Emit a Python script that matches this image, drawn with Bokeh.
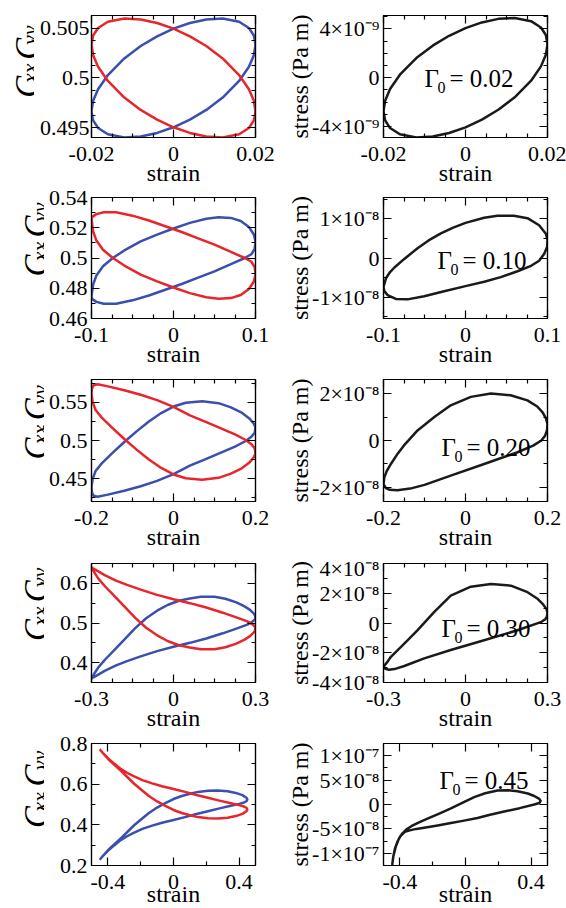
import math
from bokeh.plotting import figure
from bokeh.layouts import column, row
from bokeh.models import Range1d, FixedTicker, CustomJSTickFormatter, LinearAxis, Label
from bokeh.embed import file_html
from bokeh.resources import INLINE

SERIF = "'Liberation Serif', 'Times New Roman', Times, serif"
BLUE = "#3a4fae"
RED = "#e8252b"
BLACK = "#1a1a1a"

# ---------------- data ----------------
# Gamma0 = 0.02
g1_strain = [-0.02, -0.0196, -0.0184, -0.016, -0.012, -0.008, -0.004, 0.0, 0.004, 0.008, 0.012, 0.016, 0.0184, 0.0196, 0.02,
             0.0196, 0.0184, 0.016, 0.012, 0.008, 0.004, 0.0, -0.004, -0.008, -0.012, -0.016, -0.0184, -0.0196, -0.02]
g1_cxx = [0.49665, 0.49770, 0.49886, 0.50030, 0.50197, 0.50322, 0.50420, 0.50497, 0.50554, 0.50590, 0.50599, 0.50567, 0.50504, 0.50428, 0.50336,
          0.50230, 0.50114, 0.49970, 0.49803, 0.49678, 0.49580, 0.49503, 0.49446, 0.49410, 0.49401, 0.49433, 0.49496, 0.49572, 0.49665]
g1_cyy = [0.50335, 0.50230, 0.50114, 0.49970, 0.49803, 0.49678, 0.49580, 0.49503, 0.49446, 0.49410, 0.49401, 0.49433, 0.49496, 0.49572, 0.49664,
          0.49770, 0.49886, 0.50030, 0.50197, 0.50322, 0.50420, 0.50497, 0.50554, 0.50590, 0.50599, 0.50567, 0.50504, 0.50428, 0.50335]
g1_stress_e9 = [-2.744, -1.880, -0.930, 0.245, 1.608, 2.629, 3.436, 4.067, 4.534, 4.825, 4.900, 4.635, 4.118, 3.498, 2.744,
                1.880, 0.930, -0.245, -1.608, -2.629, -3.436, -4.067, -4.534, -4.825, -4.900, -4.635, -4.118, -3.498, -2.744]

# Gamma0 = 0.10
g2_strain = [-0.100, -0.098, -0.094, -0.086, -0.074, -0.060, -0.040, -0.020, 0.000, 0.020, 0.040, 0.055, 0.070, 0.082, 0.092, 0.098, 0.100,
             0.099, 0.095, 0.087, 0.070, 0.050, 0.030, 0.010, -0.010, -0.030, -0.050, -0.070, -0.085, -0.094, -0.099, -0.100]
g2_cxx = [0.4745, 0.4825, 0.4885, 0.4945, 0.5000, 0.5050, 0.5110, 0.5155, 0.5195, 0.5232, 0.5260, 0.5270, 0.5265, 0.5245, 0.5205, 0.5155, 0.5110,
          0.5060, 0.5025, 0.5000, 0.4960, 0.4912, 0.4870, 0.4828, 0.4790, 0.4752, 0.4720, 0.4698, 0.4697, 0.4710, 0.4728, 0.4745]
g2_cyy = [0.5255, 0.5175, 0.5115, 0.5055, 0.5000, 0.4950, 0.4890, 0.4845, 0.4805, 0.4768, 0.4740, 0.4730, 0.4735, 0.4755, 0.4795, 0.4845, 0.4890,
          0.4940, 0.4975, 0.5000, 0.5040, 0.5088, 0.5130, 0.5172, 0.5210, 0.5248, 0.5280, 0.5302, 0.5303, 0.5290, 0.5272, 0.5255]
g2s_strain = [-0.100, -0.097, -0.092, -0.087, -0.075, -0.0585, -0.045, -0.030, -0.015, 0.000, 0.0228, 0.039, 0.059, 0.0756, 0.0898, 0.098, 0.100,
              0.0996, 0.096, 0.0898, 0.080, 0.0634, 0.043, 0.0228, 0.000, -0.026, -0.0504, -0.0707, -0.085, -0.095, -0.099, -0.100]
g2_stress_e8 = [-0.74, -0.52, -0.36, -0.25, -0.03, 0.25, 0.45, 0.63, 0.78, 0.90, 1.03, 1.08, 1.08, 1.02, 0.84, 0.62, 0.46,
                0.29, 0.11, -0.07, -0.20, -0.34, -0.49, -0.61, -0.72, -0.85, -0.98, -1.06, -1.05, -0.95, -0.85, -0.74]

# Gamma0 = 0.20
g3_strain = [-0.200, -0.197, -0.190, -0.175, -0.150, -0.120, -0.090, -0.060, -0.030, 0.000, 0.030, 0.070, 0.110, 0.140, 0.165, 0.185, 0.196, 0.200,
             0.198, 0.190, 0.175, 0.150, 0.120, 0.080, 0.040, 0.000, -0.040, -0.080, -0.120, -0.160, -0.185, -0.195, -0.199, -0.200]
g3_cxx = [0.4390, 0.4500, 0.4600, 0.4700, 0.4830, 0.4980, 0.5120, 0.5250, 0.5360, 0.5445, 0.5495, 0.5515, 0.5490, 0.5435, 0.5370, 0.5290, 0.5220, 0.5170,
          0.5100, 0.5050, 0.4990, 0.4920, 0.4850, 0.4760, 0.4670, 0.4560, 0.4470, 0.4400, 0.4340, 0.4290, 0.4262, 0.4275, 0.4320, 0.4390]
g3_cyy = [0.5610, 0.5500, 0.5400, 0.5300, 0.5170, 0.5020, 0.4880, 0.4750, 0.4640, 0.4555, 0.4505, 0.4485, 0.4510, 0.4565, 0.4630, 0.4710, 0.4780, 0.4830,
          0.4900, 0.4950, 0.5010, 0.5080, 0.5150, 0.5240, 0.5330, 0.5440, 0.5530, 0.5600, 0.5660, 0.5710, 0.5738, 0.5725, 0.5680, 0.5610]
g3s_strain = [-0.200, -0.198, -0.192, -0.182, -0.165, -0.150, -0.117, -0.076, -0.036, 0.013, 0.062, 0.110, 0.151, 0.175, 0.188, 0.196, 0.200,
              0.199, 0.194, 0.185, 0.165, 0.127, 0.0455, -0.036, -0.100, -0.135, -0.166, -0.185, -0.194, -0.200]
g3_stress_e8 = [-1.86, -1.57, -1.30, -1.00, -0.55, -0.21, 0.43, 1.00, 1.50, 1.86, 2.00, 1.93, 1.71, 1.45, 1.20, 0.95, 0.70,
                0.45, 0.20, 0.00, -0.22, -0.50, -1.00, -1.50, -1.89, -2.05, -2.12, -2.10, -2.03, -1.86]

# Gamma0 = 0.30
g4_strain = [-0.300, -0.290, -0.275, -0.250, -0.215, -0.180, -0.140, -0.100, -0.060, -0.020, 0.020, 0.060, 0.100, 0.150, 0.190, 0.230, 0.260, 0.280, 0.295, 0.300,
             0.297, 0.288, 0.270, 0.230, 0.180, 0.120, 0.060, 0.000, -0.060, -0.120, -0.170, -0.210, -0.250, -0.280, -0.300]
g4_cxx = [0.360, 0.372, 0.388, 0.408, 0.433, 0.458, 0.487, 0.512, 0.531, 0.546, 0.556, 0.562, 0.566, 0.566, 0.561, 0.552, 0.542, 0.533, 0.523, 0.515,
          0.508, 0.503, 0.496, 0.486, 0.474, 0.461, 0.450, 0.440, 0.429, 0.416, 0.404, 0.393, 0.380, 0.368, 0.360]
g4_cyy = [0.640, 0.628, 0.612, 0.592, 0.567, 0.542, 0.513, 0.488, 0.469, 0.454, 0.444, 0.438, 0.434, 0.434, 0.439, 0.448, 0.458, 0.467, 0.477, 0.485,
          0.492, 0.497, 0.504, 0.514, 0.526, 0.539, 0.550, 0.560, 0.571, 0.584, 0.596, 0.607, 0.620, 0.632, 0.640]
g4s_strain = [-0.300, -0.285, -0.273, -0.224, -0.176, -0.115, -0.054, 0.0195, 0.093, 0.166, 0.227, 0.262, 0.284, 0.296, 0.300,
              0.298, 0.292, 0.278, 0.190, 0.068, -0.054, -0.151, -0.224, -0.260, -0.280, -0.293, -0.300]
g4_stress_e8 = [-2.93, -2.60, -2.27, -1.38, -0.49, 0.73, 1.84, 2.44, 2.62, 2.51, 2.07, 1.65, 1.25, 0.95, 0.70,
                0.45, 0.25, 0.08, -0.49, -1.16, -1.82, -2.38, -2.89, -3.10, -3.14, -3.08, -2.93]

# Gamma0 = 0.45
g5_strain = [-0.450, -0.430, -0.400, -0.360, -0.320, -0.280, -0.240, -0.200, -0.150, -0.100, -0.050, 0.000, 0.050, 0.100, 0.150, 0.210, 0.270, 0.330, 0.380, 0.420, 0.445, 0.450,
             0.445, 0.430, 0.400, 0.350, 0.280, 0.210, 0.140, 0.070, 0.000, -0.070, -0.130, -0.190, -0.240, -0.280, -0.320, -0.360, -0.400, -0.430, -0.450]
g5_cxx = [0.228, 0.248, 0.275, 0.305, 0.335, 0.366, 0.398, 0.425, 0.458, 0.485, 0.507, 0.527, 0.542, 0.553, 0.562, 0.568, 0.569, 0.565, 0.557, 0.546, 0.533, 0.525,
          0.516, 0.510, 0.503, 0.494, 0.481, 0.467, 0.453, 0.438, 0.424, 0.410, 0.396, 0.380, 0.362, 0.345, 0.326, 0.300, 0.272, 0.247, 0.228]
g5_cyy = [0.772, 0.752, 0.725, 0.695, 0.665, 0.634, 0.602, 0.575, 0.542, 0.515, 0.493, 0.473, 0.458, 0.447, 0.438, 0.432, 0.431, 0.435, 0.443, 0.454, 0.467, 0.475,
          0.484, 0.490, 0.497, 0.506, 0.519, 0.533, 0.547, 0.562, 0.576, 0.590, 0.604, 0.620, 0.638, 0.655, 0.674, 0.700, 0.728, 0.753, 0.772]
g5s_strain = [-0.447, -0.440, -0.425, -0.405, -0.384, -0.360, -0.330, -0.290, -0.232, -0.160, -0.089, -0.020, 0.053, 0.120, 0.195, 0.260, 0.317, 0.380, 0.419, 0.450,
              0.458, 0.450, 0.419, 0.330, 0.236, 0.150, 0.073, -0.009, -0.089, -0.170, -0.252, -0.300, -0.340, -0.370, -0.395, -0.415, -0.430, -0.440, -0.447]
g5_stress_e8 = [-12.4, -10.6, -8.6, -6.9, -5.9, -5.1, -4.45, -3.75, -2.9, -1.85, -0.8, 0.35, 1.5, 2.3, 2.85, 2.9, 2.7, 2.25, 1.75, 1.15,
                0.75, 0.3, 0.0, -0.75, -1.45, -2.1, -2.75, -3.3, -3.8, -4.3, -4.75, -5.0, -5.3, -5.6, -6.4, -7.6, -9.0, -10.6, -12.4]

gamma0_labels = ["= 0.02", "= 0.10", "= 0.20", "= 0.30", "= 0.45"]

# ticks (values and labels)
x_major = [[-0.02, 0.0, 0.02], [-0.1, 0.0, 0.1], [-0.2, 0.0, 0.2], [-0.3, 0.0, 0.3], [-0.4, 0.0, 0.4]]
x_major_labels = [["-0.02", "0", "0.02"], ["-0.1", "0", "0.1"], ["-0.2", "0", "0.2"], ["-0.3", "0", "0.3"], ["-0.4", "0", "0.4"]]
x_minor = [[-0.015, -0.01, -0.005, 0.005, 0.01, 0.015], [-0.075, -0.05, -0.025, 0.025, 0.05, 0.075],
           [-0.15, -0.1, -0.05, 0.05, 0.1, 0.15], [-0.225, -0.15, -0.075, 0.075, 0.15, 0.225], [-0.2, 0.2]]
x_ranges = [(-0.02, 0.02), (-0.1, 0.1), (-0.2, 0.2), (-0.3, 0.3), (-0.5, 0.5)]

c_ranges = [(0.494, 0.5063), (0.46, 0.54), (0.42, 0.58), (0.35, 0.65), (0.2, 0.8)]
c_major = [[0.495, 0.5, 0.505], [0.46, 0.48, 0.5, 0.52, 0.54], [0.45, 0.5, 0.55], [0.4, 0.5, 0.6], [0.2, 0.4, 0.6, 0.8]]
c_major_labels = [["0.495", "0.5", "0.505"], ["0.46", "0.48", "0.5", "0.52", "0.54"], ["0.45", "0.5", "0.55"],
                  ["0.4", "0.5", "0.6"], ["0.2", "0.4", "0.6", "0.8"]]
c_minor = [[0.49625, 0.4975, 0.49875, 0.50125, 0.5025, 0.50375, 0.50625], [0.47, 0.49, 0.51, 0.53],
           [0.425, 0.475, 0.525, 0.575], [0.45, 0.55], [0.3, 0.5, 0.7]]

s_ranges = [(-4.9e-9, 5.1e-9), (-1.55e-8, 1.55e-8), (-2.6e-8, 2.6e-8), (-4e-8, 4e-8), (-1.25e-7, 1.25e-7)]
s_major = [[-4e-9, 0.0, 4e-9], [-1e-8, 0.0, 1e-8], [-2e-8, 0.0, 2e-8], [-4e-8, -2e-8, 0.0, 2e-8, 4e-8],
           [-1e-7, -5e-8, 0.0, 5e-8, 1e-7]]
s_major_labels = [["-4×10⁻⁹", "0", "4×10⁻⁹"], ["-1×10⁻⁸", "0", "1×10⁻⁸"], ["-2×10⁻⁸", "0", "2×10⁻⁸"],
                  ["-4×10⁻⁸", "-2×10⁻⁸", "0", "2×10⁻⁸", "4×10⁻⁸"], ["-1×10⁻⁷", "-5×10⁻⁸", "0", "5×10⁻⁸", "1×10⁻⁷"]]
s_minor = [[-3e-9, -2e-9, -1e-9, 1e-9, 2e-9, 3e-9, 5e-9], [-1.5e-8, -0.5e-8, 0.5e-8, 1.5e-8], [-1e-8, 1e-8],
           [-3e-8, -1e-8, 1e-8, 3e-8], [-7.5e-8, -2.5e-8, 2.5e-8, 7.5e-8]]

left_data = [(g1_strain, g1_cxx, g1_cyy), (g2_strain, g2_cxx, g2_cyy), (g3_strain, g3_cxx, g3_cyy),
             (g4_strain, g4_cxx, g4_cyy), (g5_strain, g5_cxx, g5_cyy)]
right_data = [(g1_strain, [v * 1e-9 for v in g1_stress_e9]), (g2s_strain, [v * 1e-8 for v in g2_stress_e8]),
              (g3s_strain, [v * 1e-8 for v in g3_stress_e8]), (g4s_strain, [v * 1e-8 for v in g4_stress_e8]),
              (g5s_strain, [v * 1e-8 for v in g5_stress_e8])]

# ---------------- layout (Bokeh's page template has no body margin) ----------------
FRAME_W = 164
FRAME_LEFT_L = 91      # frame left edge, left column
COL_W = 283
RIGHT_MBL = 100
frame_h = [122, 121, 122, 119, 122]
border_top = [15, 7, 7, 8, 7]
border_bottom = [53, 54, 54, 54, 43]
xtick_standoff = [9, 9, 9, 9, 9]
xlab_standoff = [-4, -4, -4, -4, -11]
strip_w = [34, 44, 44, 44, 44]
ytick_standoff = [2, 4, 4, 4, 4]
c_base = [[26.5, 28.5], [35, 38.5], [35, 38.5], [35, 38.5], [35, 38.5]]
gamma_pos = [(41, 59), (54, 58), (58, 54), (58, 54), (56, 85)]

FMT_CODE = """
let best = 0, bd = Infinity;
for (let i = 0; i < vals.length; i++) { const d = Math.abs(vals[i] - tick); if (d < bd) { bd = d; best = i; } }
return labs[best];
"""
BLANK_CODE = "return '';"


def make_axis(ticks, minors, labels, standoff=4):
    ax = LinearAxis(ticker=FixedTicker(ticks=ticks, minor_ticks=minors))
    ax.major_tick_in = 8
    ax.major_tick_out = 0
    ax.minor_tick_in = 4
    ax.minor_tick_out = 0
    ax.axis_line_color = "black"
    ax.major_tick_line_color = "black"
    ax.minor_tick_line_color = "black"
    ax.axis_line_width = 1.2
    ax.major_tick_line_width = 1.2
    ax.minor_tick_line_width = 1.2
    ax.axis_label_text_font = SERIF
    ax.axis_label_text_font_size = "24px"
    ax.axis_label_text_font_style = "normal"
    ax.axis_label_text_color = "black"
    ax.major_label_text_font = SERIF
    if labels is None:
        ax.formatter = CustomJSTickFormatter(code=BLANK_CODE)
        ax.major_label_text_font_size = "0px"
        ax.major_label_standoff = 0
    else:
        ax.formatter = CustomJSTickFormatter(args=dict(vals=ticks, labs=labels), code=FMT_CODE)
        ax.major_label_text_font_size = "22px"
        ax.major_label_text_font_style = "normal"
        ax.major_label_text_color = "black"
        ax.major_label_standoff = standoff
    return ax


def add_text(p, text, x, y, size, style="normal", angle=0.0, units="screen"):
    p.add_layout(Label(x=x, y=y, x_units=units, y_units=units, text=text, text_font=SERIF,
                       text_font_size=f"{size}px", text_font_style=style, angle=angle,
                       text_align="left", text_baseline="alphabetic", text_color="black"))


def make_strip(i):
    """Narrow drawing area left of the C panel that carries the C_xx, C_yy title."""
    w = strip_w[i]
    h = border_top[i] + frame_h[i] + border_bottom[i]
    s = figure(width=w, height=h, x_range=Range1d(0, w), y_range=Range1d(0, h),
               x_axis_type=None, y_axis_type=None, output_backend="svg", toolbar_location=None,
               min_border_left=0, min_border_right=0, min_border_top=0, min_border_bottom=0)
    s.outline_line_color = None
    s.background_fill_color = "white"
    s.border_fill_color = "white"
    a = math.pi / 2
    xb, xs = c_base[i]
    y0 = border_bottom[i]
    add_text(s, "C", xb, y0 + 9, 33, "italic", a, "data")
    add_text(s, "xx", xs, y0 + 32, 22, "italic", a, "data")
    add_text(s, ",", xb, y0 + 52, 33, "italic", a, "data")
    add_text(s, "C", xb, y0 + 68, 33, "italic", a, "data")
    add_text(s, "yy", xs, y0 + 91, 22, "italic", a, "data")
    return s


def make_panel(i, left):
    xr = x_ranges[i]
    if left:
        yr, ymaj, ylab, ymin = c_ranges[i], c_major[i], c_major_labels[i], c_minor[i]
        mbl, mbr = FRAME_LEFT_L - strip_w[i], COL_W - FRAME_LEFT_L - FRAME_W
    else:
        yr, ymaj, ylab, ymin = s_ranges[i], s_major[i], s_major_labels[i], s_minor[i]
        mbl, mbr = RIGHT_MBL, COL_W - RIGHT_MBL - FRAME_W
    p = figure(frame_width=FRAME_W, frame_height=frame_h[i], x_range=Range1d(*xr), y_range=Range1d(*yr),
               x_axis_type=None, y_axis_type=None, output_backend="svg", toolbar_location=None,
               min_border_left=mbl, min_border_right=mbr, min_border_top=border_top[i],
               min_border_bottom=border_bottom[i])
    p.background_fill_color = "white"
    p.border_fill_color = "white"
    p.outline_line_color = "black"
    p.outline_line_width = 1.2
    xb = make_axis(x_major[i], x_minor[i], x_major_labels[i], xtick_standoff[i])
    xb.axis_label = "strain"
    xb.axis_label_standoff = xlab_standoff[i]
    p.add_layout(xb, "below")
    p.add_layout(make_axis(x_major[i], x_minor[i], None), "above")
    yl = make_axis(ymaj, ymin, ylab, ytick_standoff[i] if left else 4)
    p.add_layout(yl, "left")
    p.add_layout(make_axis(ymaj, ymin, None), "right")

    if left:
        xs, cxx, cyy = left_data[i]
        p.line(xs, cxx, line_color=BLUE, line_width=2.5, line_join="round")
        p.line(xs, cyy, line_color=RED, line_width=2.5, line_join="round")
    else:
        xs, st = right_data[i]
        p.line(xs, st, line_color=BLACK, line_width=2.5, line_join="round")
        yl.axis_label = "stress (Pa m)"
        yl.axis_label_standoff = -4
        gx, gy = gamma_pos[i]
        add_text(p, "Γ", gx, gy, 25)
        add_text(p, "0", gx + 13, gy - 9, 16)
        add_text(p, gamma0_labels[i], gx + 25, gy, 25)
    return p


rows = [row(make_strip(i), make_panel(i, True), make_panel(i, False)) for i in range(5)]
layout = column(*rows)
open("out.html", "w").write(file_html(layout, INLINE))
